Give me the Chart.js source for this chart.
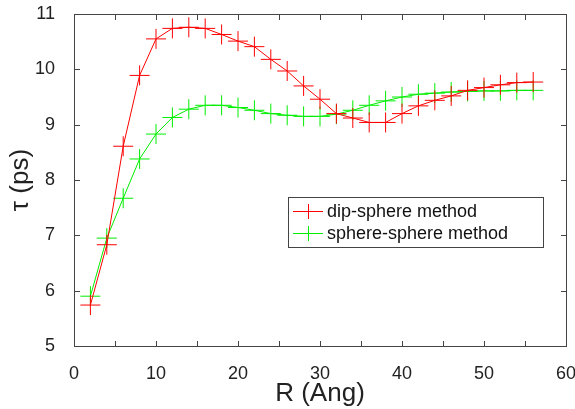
<!DOCTYPE html>
<html>
<head>
<meta charset="utf-8">
<script src="https://cdn.jsdelivr.net/npm/chart.js@4.4.0/dist/chart.umd.min.js"></script>
<style>
  html, body { margin: 0; padding: 0; background: #fff; }
  #wrap { width: 575px; height: 409px; position: relative; }
</style>
</head>
<body>
<div id="wrap"><canvas id="tauChart"></canvas></div>
<script>
// separation R (Ang)
const radii = [2, 4, 6, 8, 10, 12, 14, 16, 18, 20, 22, 24, 26, 28, 30,
               32, 34, 36, 38, 40, 42, 44, 46, 48, 50, 52, 54, 56];

// tau (ps) per method
const dipSphere = [5.74, 6.83, 8.61, 9.89, 10.55, 10.74, 10.76, 10.74, 10.63, 10.51,
                   10.41, 10.18, 9.97, 9.70, 9.46, 9.20, 9.12, 9.04, 9.04, 9.20,
                   9.34, 9.44, 9.52, 9.62, 9.67, 9.72, 9.76, 9.77];
const sphereSphere = [5.90, 6.95, 7.67, 8.38, 8.83, 9.13, 9.28, 9.35, 9.35, 9.31,
                      9.26, 9.20, 9.17, 9.15, 9.15, 9.19, 9.26, 9.35, 9.43, 9.50,
                      9.55, 9.57, 9.59, 9.60, 9.61, 9.61, 9.62, 9.62];

const seriesNames = ['dip-sphere method', 'sphere-sphere method'];
const seriesColors = ['#ff0000', '#00ee00'];

const FONT = 'Liberation Sans, Arial, sans-serif';
const AXIS = '#444444';

// box + inward ticks on all four sides, drawn before anything else
const framePlugin = {
    id: 'plotFrame',
    beforeDraw(chart) {
        const ctx = chart.ctx;
        const a = chart.chartArea;
        const x = chart.scales.x, y = chart.scales.y;
        const L = Math.round(a.left), R = Math.round(a.right);
        const T = Math.round(a.top), B = Math.round(a.bottom);
        ctx.save();
        ctx.fillStyle = AXIS;
        ctx.fillRect(L, T, R - L + 1, 1);
        ctx.fillRect(L, B, R - L + 1, 1);
        ctx.fillRect(L, T, 1, B - T + 1);
        ctx.fillRect(R, T, 1, B - T + 1);
        x.ticks.forEach(t => {
            const px = Math.round(x.getPixelForValue(t.value));
            ctx.fillRect(px, B - 5, 1, 5);
            ctx.fillRect(px, T + 1, 1, 5);
        });
        y.ticks.forEach(t => {
            const py = Math.round(y.getPixelForValue(t.value));
            ctx.fillRect(L + 1, py, 5, 1);
            ctx.fillRect(R - 5, py, 5, 1);
        });
        ctx.restore();
    }
};

// legend box inside the plot
const legendPlugin = {
    id: 'boxLegend',
    afterDraw(chart) {
        const { ctx } = chart;
        const bx = 288, by = 197, bw = 255, bh = 50;
        ctx.save();
        ctx.fillStyle = '#fff';
        ctx.fillRect(bx, by, bw, bh);
        ctx.strokeStyle = AXIS;
        ctx.lineWidth = 1;
        ctx.strokeRect(bx + 0.5, by + 0.5, bw, bh);
        ctx.font = `18px ${FONT}`;
        ctx.textBaseline = 'middle';
        chart.data.datasets.forEach((ds, i) => {
            const cy = by + 14 + i * 22;
            ctx.strokeStyle = ds.borderColor;
            ctx.beginPath();
            ctx.moveTo(bx + 5, cy + 0.5); ctx.lineTo(bx + 35, cy + 0.5);
            ctx.moveTo(bx + 20.5, cy - 7); ctx.lineTo(bx + 20.5, cy + 8);
            ctx.stroke();
            ctx.fillStyle = '#111';
            ctx.fillText(ds.label, bx + 39, cy + 1);
        });
        ctx.restore();
    }
};

const datasets = [dipSphere, sphereSphere].map((vals, i) => ({
    label: seriesNames[i],
    data: radii.map((r, j) => ({ x: r, y: vals[j] })),
    borderColor: seriesColors[i],
    backgroundColor: seriesColors[i],
    borderWidth: 1,
    pointStyle: 'cross',
    pointRadius: 10,
    pointBorderWidth: 1,
    tension: 0
}));

new Chart(document.getElementById('tauChart'), {
    type: 'line',
    data: { datasets },
    options: {
        responsive: true,
        maintainAspectRatio: false,
        animation: false,
        layout: { autoPadding: false, padding: { top: 14, right: 9, left: 0, bottom: 0 } },
        plugins: { legend: { display: false }, tooltip: { enabled: false } },
        scales: {
            x: {
                type: 'linear',
                min: 0,
                max: 60,
                grid: { display: false },
                border: { display: false },
                ticks: {
                    stepSize: 5,
                    autoSkip: false,
                    maxRotation: 0,
                    padding: 9,
                    color: '#222',
                    font: { family: FONT, size: 18 },
                    callback: v => (v % 10 === 0 ? String(v) : '')
                },
                title: {
                    display: true,
                    text: 'R (Ang)',
                    color: '#222',
                    font: { family: FONT, size: 26 },
                    padding: 0
                },
                afterFit: s => {
                    s.height = 63;
                    s.paddingLeft = 0;
                    s.paddingRight = 0;
                }
            },
            y: {
                min: 5,
                max: 11,
                grid: { display: false },
                border: { display: false },
                ticks: {
                    stepSize: 1,
                    padding: 11,
                    color: '#222',
                    font: { family: FONT, size: 18 }
                },
                title: {
                    display: true,
                    text: 'τ (ps)',
                    color: '#222',
                    font: { family: FONT, size: 26 },
                    padding: { top: 5, bottom: 0 }
                },
                afterFit: s => {
                    s.width = 74;
                    s.paddingTop = 0;
                    s.paddingBottom = 0;
                }
            }
        }
    },
    plugins: [framePlugin, legendPlugin]
});
</script>
</body>
</html>
